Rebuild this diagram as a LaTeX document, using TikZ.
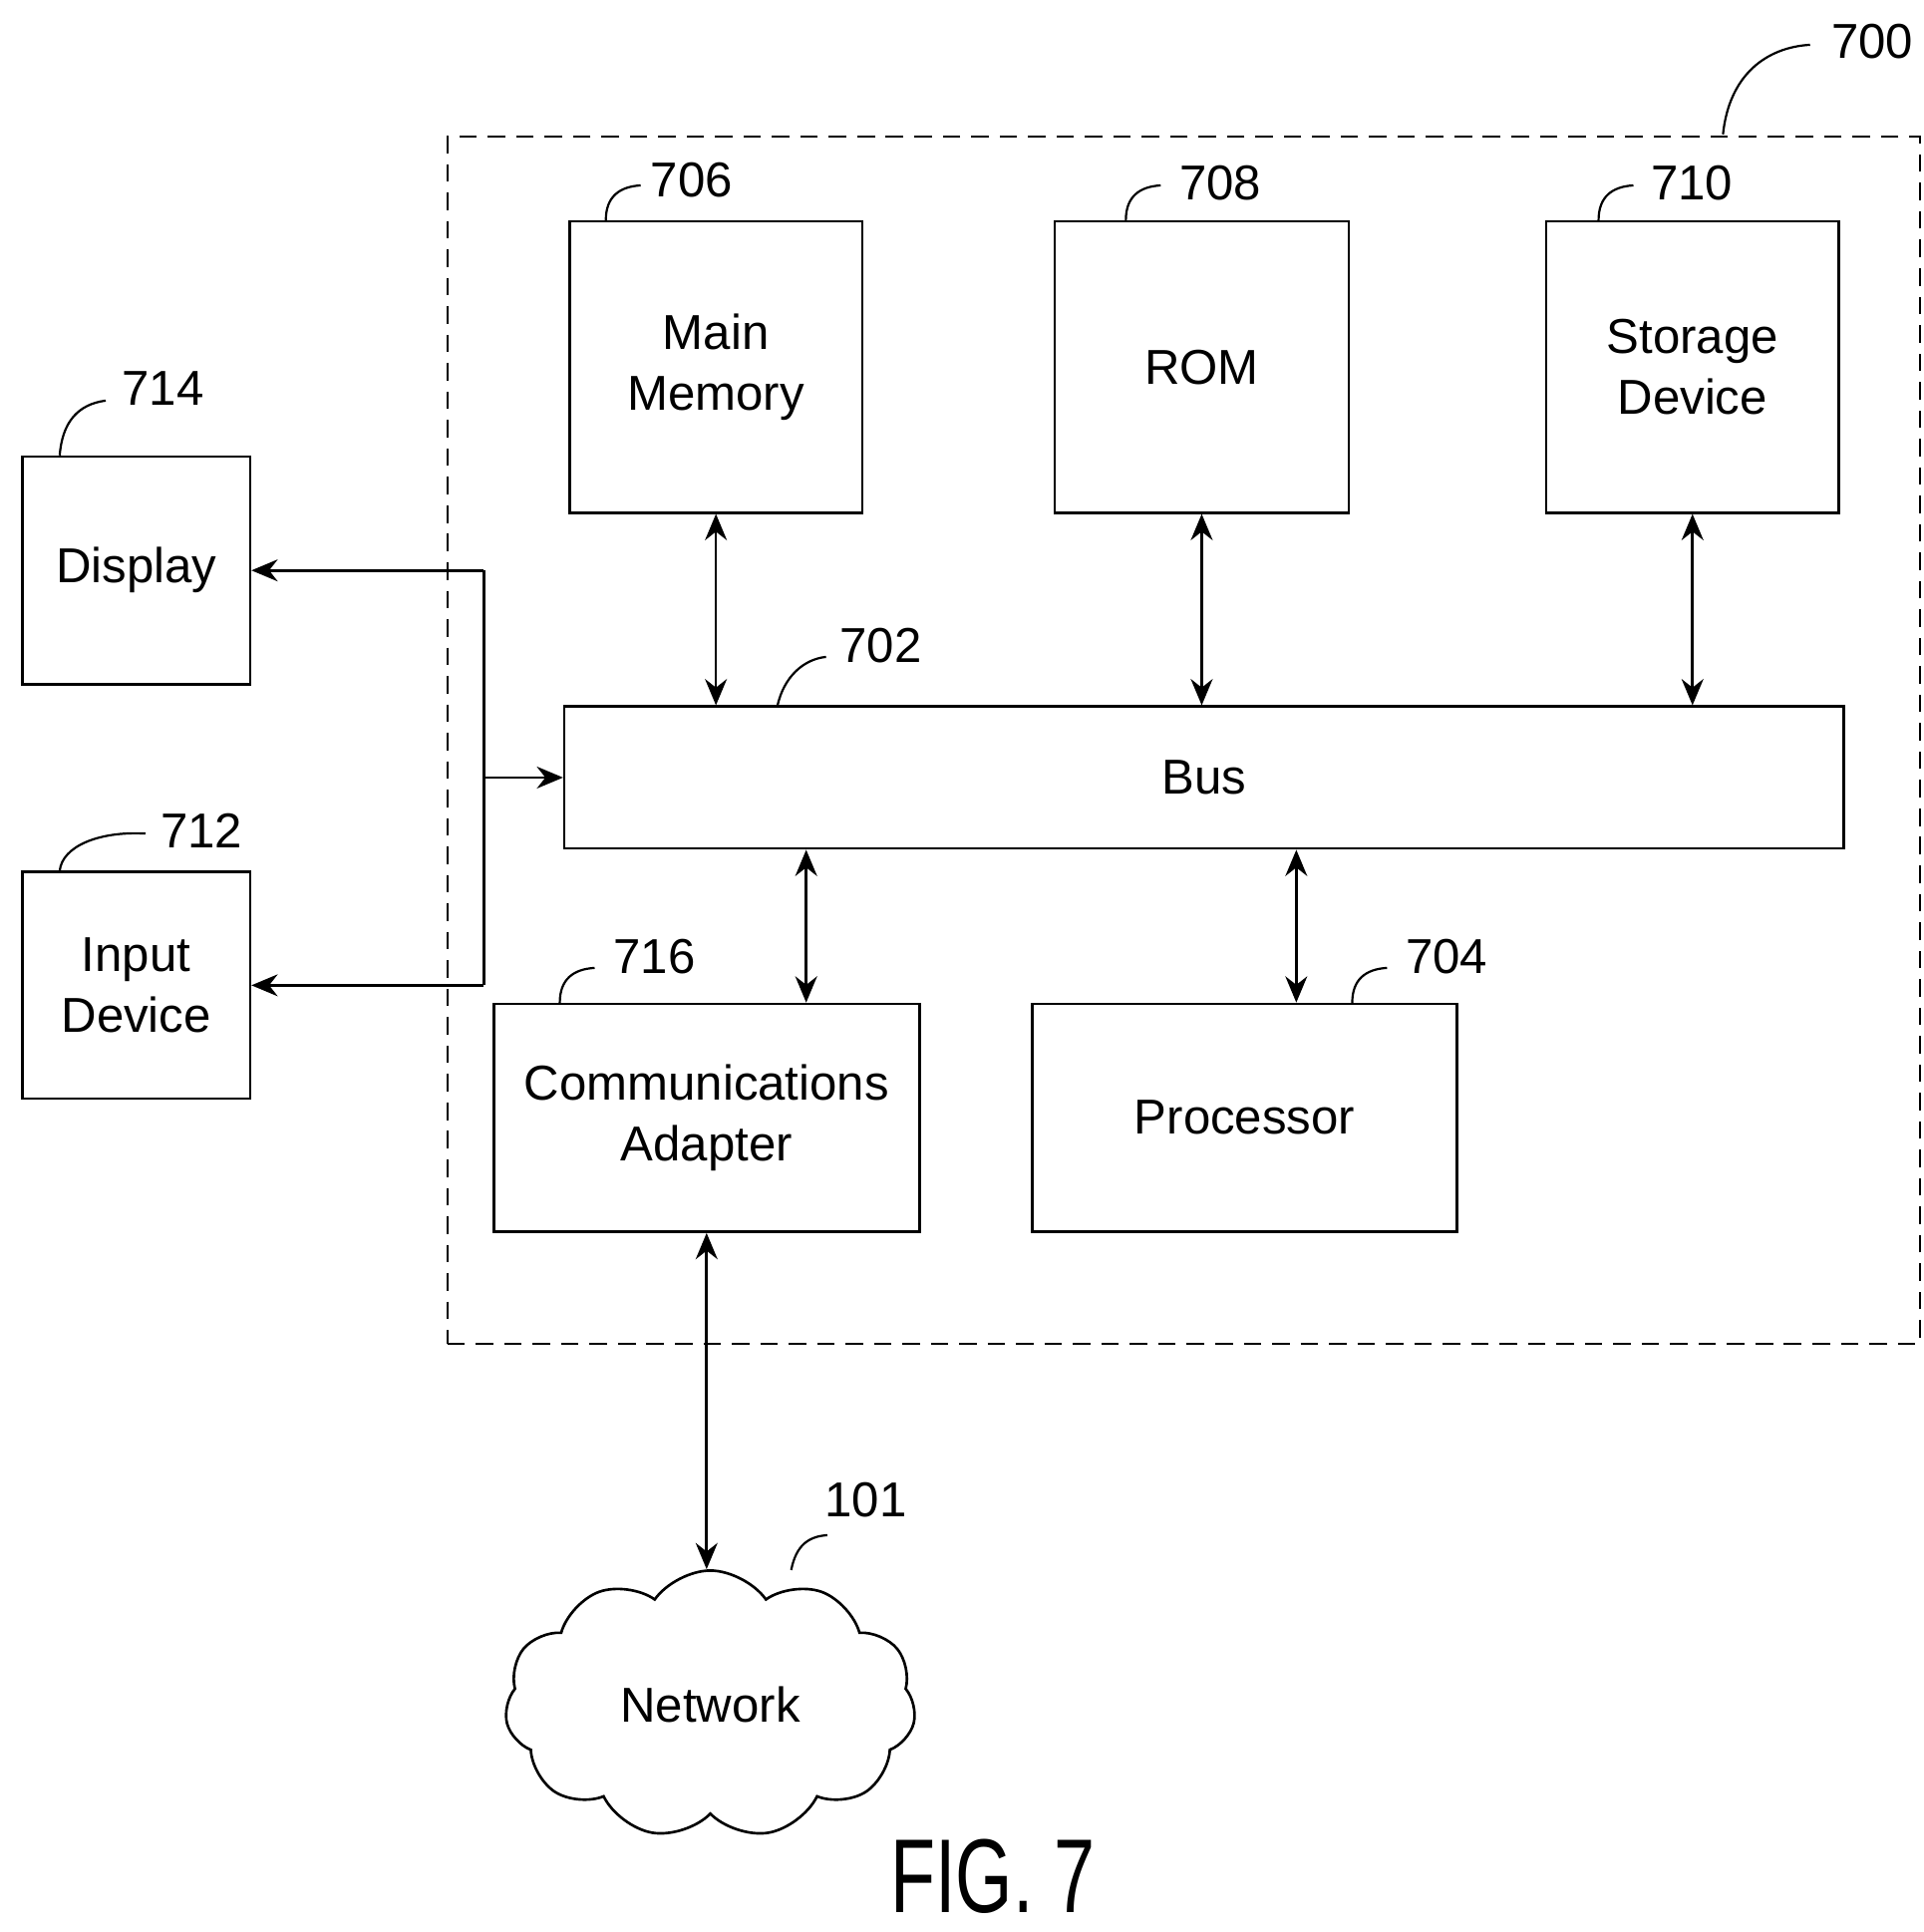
\documentclass[tikz,border=0pt]{standalone}
\usepackage{fontspec}
\setmainfont{Liberation Sans}
\usetikzlibrary{shapes.symbols,arrows.meta}
\begin{document}
\begin{tikzpicture}[
   x=0.01cm,y=-0.01cm,
   font=\fontsize{11.2}{14}\selectfont,
   line width=0.6pt,
   box/.style={draw,align=center,inner sep=0pt},
   to/.style={-{Stealth[length=6pt,width=5pt]}},
   both/.style={{Stealth[length=6pt,width=5pt]}-{Stealth[length=6pt,width=5pt]}},
   lead/.style={line width=0.5pt},
   every node/.style={}]
\useasboundingbox (0,0) rectangle (1546,1553);
% enclosure
\node[draw,dash pattern=on 4pt off 2.5pt,minimum width=11.83cm,minimum height=9.70cm] (sys) at (951.5,595) {};
% boxes
\node[box,minimum width=2.35cm,minimum height=2.34cm] (mem) at (575.5,295) {Main\\Memory};
\node[box,minimum width=2.36cm,minimum height=2.34cm] (rom) at (966,295) {ROM};
\node[box,minimum width=2.35cm,minimum height=2.34cm] (stor) at (1360.5,295) {Storage\\Device};
\node[box,minimum width=10.28cm,minimum height=1.14cm] (bus) at (968,625) {Bus};
\node[box,minimum width=3.42cm,minimum height=1.83cm] (comm) at (568,898.5) {Communications\\Adapter};
\node[box,minimum width=3.41cm,minimum height=1.83cm] (proc) at (1000.5,898.5) {Processor};
\node[box,minimum width=1.83cm,minimum height=1.83cm] (disp) at (109.5,458.5) {Display};
\node[box,minimum width=1.83cm,minimum height=1.82cm] (inp) at (109.5,792) {Input\\Device};
\node[draw,cloud,cloud puffs=11,cloud puff arc=110,aspect=1.5,minimum width=3.3cm,minimum height=2.15cm,inner sep=0pt] (net) at (571,1370) {Network};
% connectors
\draw[both] (mem.south) -- (mem.south |- bus.north);
\draw[both] (rom.south) -- (rom.south |- bus.north);
\draw[both] (stor.south) -- (stor.south |- bus.north);
\draw[both] ([xshift=0.8cm]comm.north) -- ([xshift=0.8cm]comm.north |- bus.south);
\draw[both] ([xshift=0.415cm]proc.north) -- ([xshift=0.415cm]proc.north |- bus.south);
\draw[both] (comm.south) -- (net.north -| comm.south);
\coordinate (jn) at (389,625);
\draw (jn |- disp.east) -- (jn |- inp.east);
\draw[to] (jn |- disp.east) -- (disp.east);
\draw[to] (jn |- inp.east) -- (inp.east);
\draw[to] (jn) -- (bus.west);
% reference numerals
\draw[lead] (1385,108) .. controls (1390,60) and (1420,38) .. (1455,36);
\node at (1505,33) {700};
\draw[lead] (487,177) .. controls (487,158) and (498,150) .. (515,149);
\node at (556,145) {706};
\draw[lead] (905,177) .. controls (905,158) and (916,150) .. (933,149);
\node at (981,147) {708};
\draw[lead] (1285,177) .. controls (1285,158) and (1296,150) .. (1313,149);
\node at (1360,147) {710};
\draw[lead] (625,567) .. controls (630,545) and (645,530) .. (664,528);
\node at (708,519) {702};
\draw[lead] (450,806) .. controls (450,787) and (461,779) .. (478,778);
\node at (526,769) {716};
\draw[lead] (1087,806) .. controls (1087,787) and (1098,779) .. (1115,778);
\node at (1163,769) {704};
\draw[lead] (48,366) .. controls (50,340) and (62,325) .. (85,322);
\node at (131,312) {714};
\draw[lead] (48,700) .. controls (50,680) and (80,668) .. (117,670);
\node at (162,668) {712};
\draw[lead] (636,1262) .. controls (640,1242) and (650,1235) .. (665,1234);
\node at (696,1206) {101};
\node[font=\fontsize{24}{24}\selectfont,xscale=0.7] (fig) at (798,1508) {FIG. 7};
\end{tikzpicture}
\end{document}
